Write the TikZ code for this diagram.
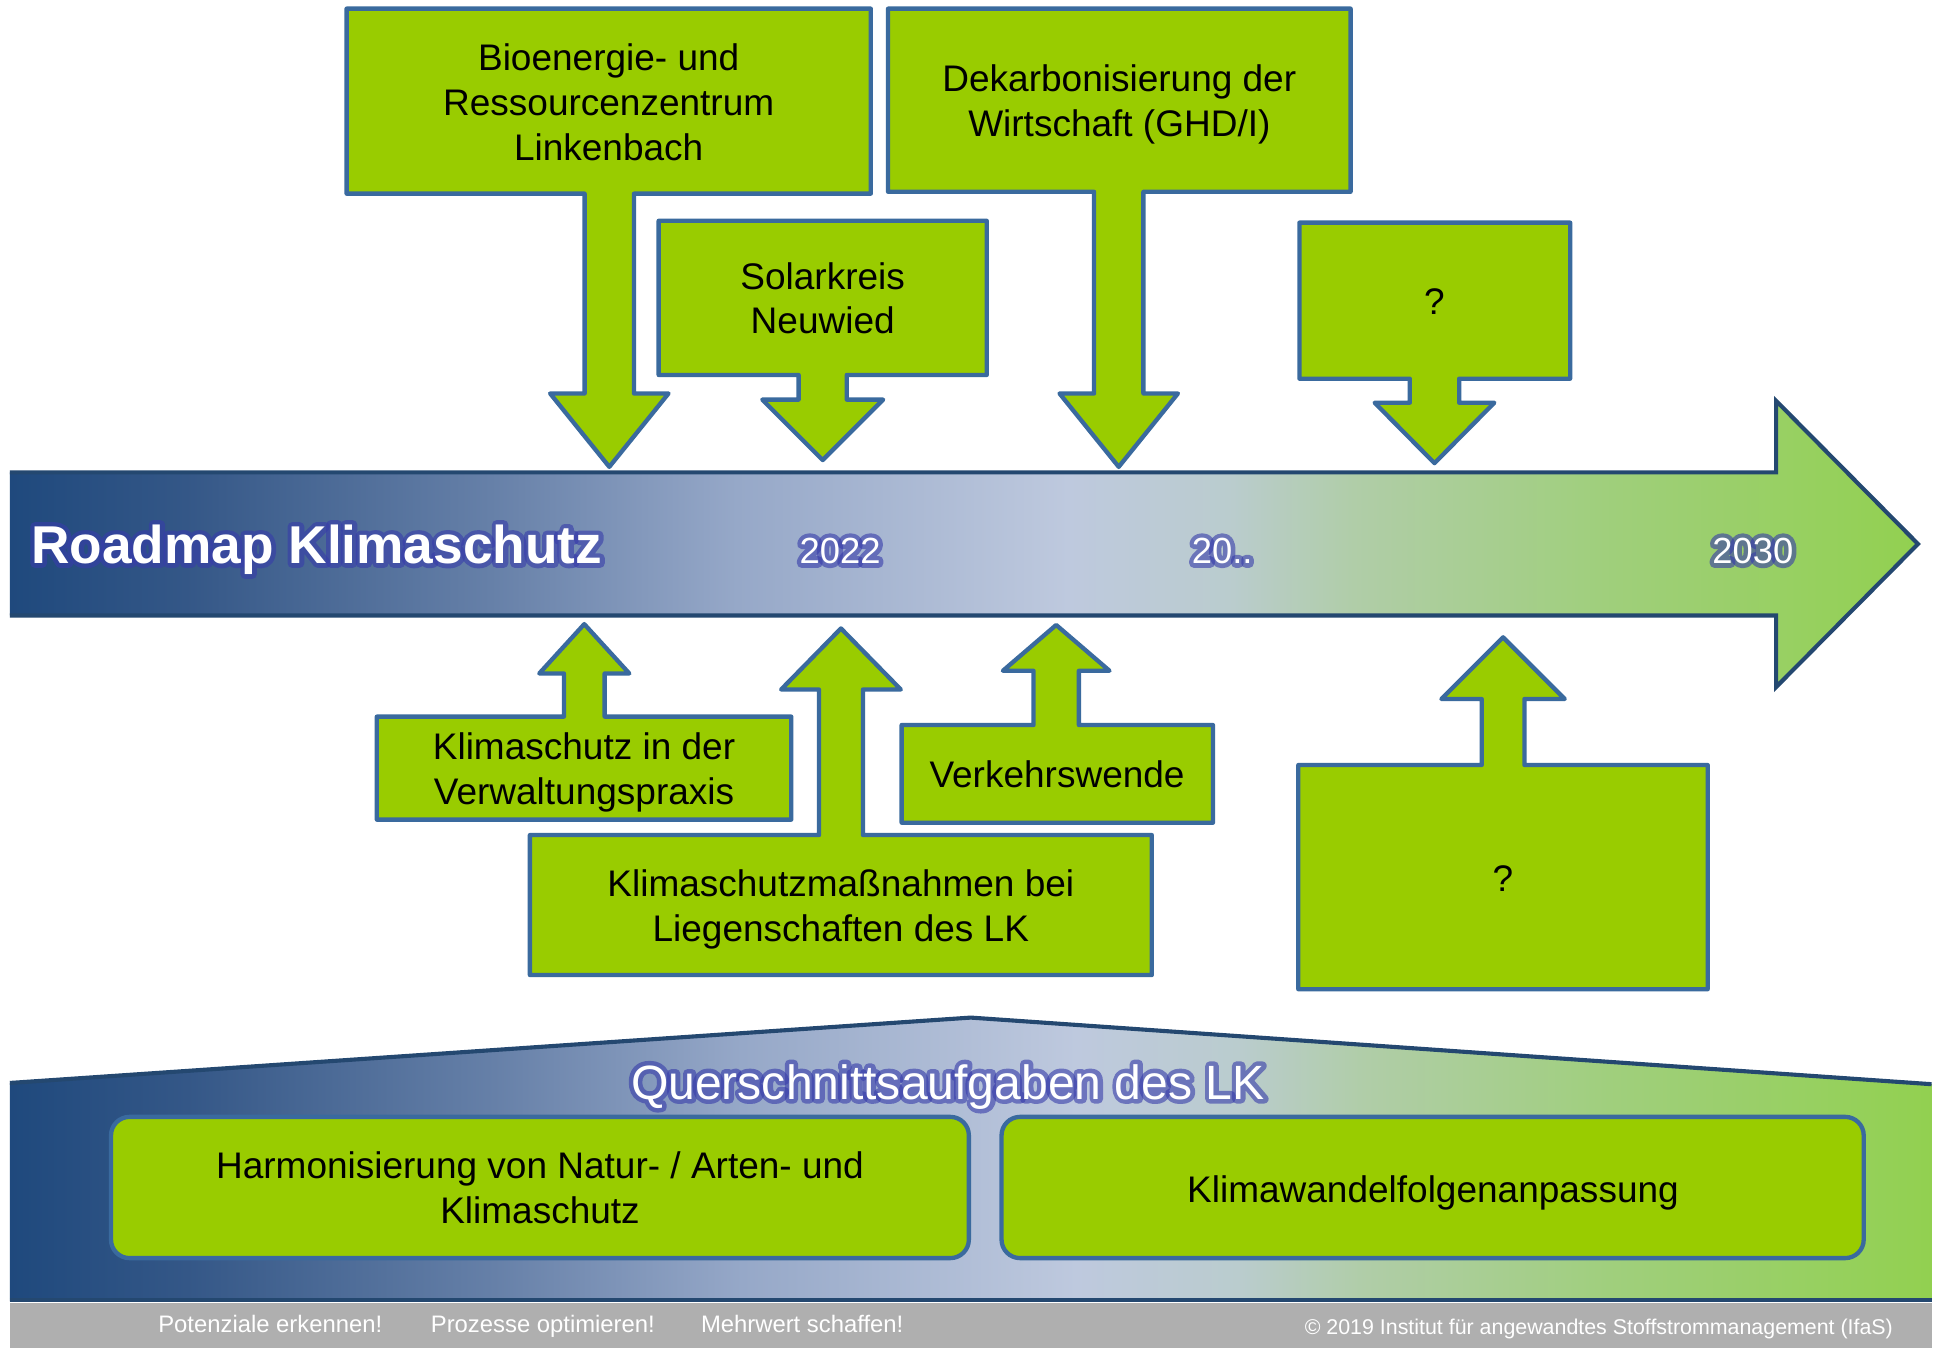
\documentclass[tikz,border=0pt]{standalone}
\usepackage{fontspec}
\setmainfont{Liberation Sans}

\definecolor{boxgreen}{RGB}{153,204,0}
\definecolor{boxline}{RGB}{58,106,158}
\definecolor{navy}{RGB}{36,72,112}
\definecolor{glowblue}{RGB}{55,60,170}
\definecolor{footgray}{RGB}{175,175,175}
% colour stops of the blue-to-green band
\definecolor{g0}{RGB}{31,73,125}
\definecolor{g1}{RGB}{52,87,135}
\definecolor{g2}{RGB}{102,128,168}
\definecolor{g3}{RGB}{150,168,200}
\definecolor{g4}{RGB}{190,201,222}
\definecolor{g5}{RGB}{186,204,206}
\definecolor{g6}{RGB}{176,205,168}
\definecolor{g7}{RGB}{160,207,125}
\definecolor{g8}{RGB}{146,208,80}

\pgfdeclarehorizontalshading{roadgrad}{100bp}{color(0bp)=(g0); color(25bp)=(g0);
  color(29.6bp)=(g1); color(37.6bp)=(g2); color(44.05bp)=(g3); color(52.75bp)=(g4);
  color(56.95bp)=(g5); color(60.2bp)=(g6); color(66.6bp)=(g7); color(75bp)=(g8); color(100bp)=(g8)}

% box with a block arrow pointing down: L,T,R,B, stem centre, stem half width, wing half width, wing y, tip y
\newcommand\calloutdown[9]{%
  \draw[callout] (#1,#2) -- (#3,#2) -- (#3,#4) -- ({#5+#6},#4) -- ({#5+#6},#8) -- ({#5+#7},#8)
    -- (#5,#9) -- ({#5-#7},#8) -- ({#5-#6},#8) -- ({#5-#6},#4) -- (#1,#4) -- cycle;}
% box with a block arrow pointing up
\newcommand\calloutup[9]{%
  \draw[callout] (#1,#4) -- (#1,#2) -- ({#5-#6},#2) -- ({#5-#6},#8) -- ({#5-#7},#8)
    -- (#5,#9) -- ({#5+#7},#8) -- ({#5+#6},#8) -- ({#5+#6},#2) -- (#3,#2) -- (#3,#4) -- cycle;}
% white text with a blue halo: the halo is the same text stroked with a wide pen
\newcommand\glowlabel[4]{%
  \begin{scope}[opacity=0.6]
    \node[#1,text=glowblue] at (#3)
      {\special{pdf:literal direct 1 Tr 4.4 w 1 j}#4\special{pdf:literal direct 0 Tr}};
  \end{scope}
  \node[#1,text=white] (#2) at (#3) {#4};}

\begin{document}
\begin{tikzpicture}[x=0.6pt,y=-0.6pt,
  callout/.style={fill=boxgreen,draw=boxline,line width=2.1pt,line join=round},
  roundbox/.style={fill=boxgreen,draw=boxline,line width=2.1pt,rounded corners=9pt},
  navyline/.style={draw=navy,line width=2pt,line join=miter},
  boxtext/.style={font=\fontsize{18}{21.7}\selectfont,align=center,inner sep=0pt,
    execute at begin node=\strut,execute at end node=\strut},
  titletext/.style={font=\fontsize{25.9}{30}\selectfont\bfseries,inner sep=0pt,anchor=base west},
  yeartext/.style={font=\fontsize{17.7}{21}\selectfont,inner sep=0pt,anchor=base west},
  quertext/.style={font=\fontsize{23.4}{28}\selectfont,inner sep=0pt,anchor=base},
  foottext/.style={font=\fontsize{11.6}{14}\selectfont,text=white,inner sep=0pt},
  copytext/.style={font=\fontsize{10.4}{12.5}\selectfont,text=white,inner sep=0pt}]

\useasboundingbox (0,0) rectangle (1568,1093);
\fill[white] (0,0) rectangle (1568,1093);

% timeline arrow
\shade[shading=roadgrad] (8,383) -- (1440,383) -- (1440,325) -- (1555,441) -- (1440,557)
  -- (1440,499) -- (8,499) -- cycle;
\draw[navyline] (8,383) -- (1440,383) -- (1440,325) -- (1555,441) -- (1440,557) -- (1440,499) -- (8,499);

% measures above the timeline
\calloutdown{281}{7}{706}{157}{494}{20}{48}{319}{378.5}
\calloutdown{534}{179}{800}{304}{667}{19.5}{49}{324}{373}
\calloutdown{720}{7}{1095}{155.5}{907}{20}{48}{319}{378.5}
\calloutdown{1053.5}{180.5}{1273}{307}{1163}{20}{48.5}{326.5}{375.5}

% measures below the timeline
\calloutup{305.5}{581}{641.5}{664.5}{473.7}{16.5}{36.5}{546}{506}
\calloutup{429.6}{677}{933.8}{790.5}{681.8}{17.8}{48.5}{559}{509.5}
\calloutup{731}{587.8}{983.4}{667}{856.3}{18.4}{43.2}{543.8}{506.7}
\calloutup{1052.6}{620.2}{1384.5}{802}{1218.6}{17.3}{50}{566.7}{516.7}

\node[boxtext] (bio) at (493.5,88.2) {Bioenergie- und\\Ressourcenzentrum\\Linkenbach};
\node[boxtext] (solar) at (667,247) {Solarkreis\\Neuwied};
\node[boxtext] (dekarb) at (907.5,86.8) {Dekarbonisierung der\\Wirtschaft (GHD/I)};
\node[boxtext] (qtop) at (1163,248) {?};
\node[boxtext] (kiv) at (473.5,628.7) {Klimaschutz in der\\Verwaltungspraxis};
\node[boxtext] (kmn) at (681.7,739.6) {Klimaschutzmaßnahmen bei\\Liegenschaften des LK};
\node[boxtext] (verk) at (857,631.5) {Verkehrswende};
\node[boxtext] (qbot) at (1218.5,715.3) {?};

% timeline labels
\glowlabel{titletext}{title}{25,456.7}{Roadmap Klimaschutz}
\glowlabel{yeartext}{y2022}{648,456.7}{2022}
\glowlabel{yeartext}{ynext}{966,456.7}{20..}
\glowlabel{yeartext}{y2030}{1388,456.7}{2030}

% cross-cutting tasks
\shade[shading=roadgrad] (8,1055) -- (8,878) -- (787,825) -- (1566,879) -- (1566,1055) -- cycle;
\draw[navyline] (8,878) -- (787,825) -- (1566,879);
\draw[navy,line width=1.8pt] (8,1054) -- (1566,1054);
\glowlabel{quertext}{quer}{768.5,891}{Querschnittsaufgaben des LK}

\draw[roundbox] (90,905.5) rectangle (785.5,1020);
\draw[roundbox] (812,905.5) rectangle (1511,1020);
\node[boxtext] (harm) at (437.8,968.3) {Harmonisierung von Natur- / Arten- und\\Klimaschutz};
\node[boxtext] (anpass) at (1161.8,967.5) {Klimawandelfolgenanpassung};

% footer
\fill[footgray] (8,1056) rectangle (1566,1093);
\node[foottext,anchor=base west] (slogan1) at (128,1080) {Potenziale erkennen!};
\node[foottext,anchor=base west] (slogan2) at (349,1080) {Prozesse optimieren!};
\node[foottext,anchor=base west] (slogan3) at (568,1080) {Mehrwert schaffen!};
\node[copytext,anchor=base east] (copyright) at (1535,1082)
  {© 2019 Institut für angewandtes Stoffstrommanagement (IfaS)};
\end{tikzpicture}
\end{document}
